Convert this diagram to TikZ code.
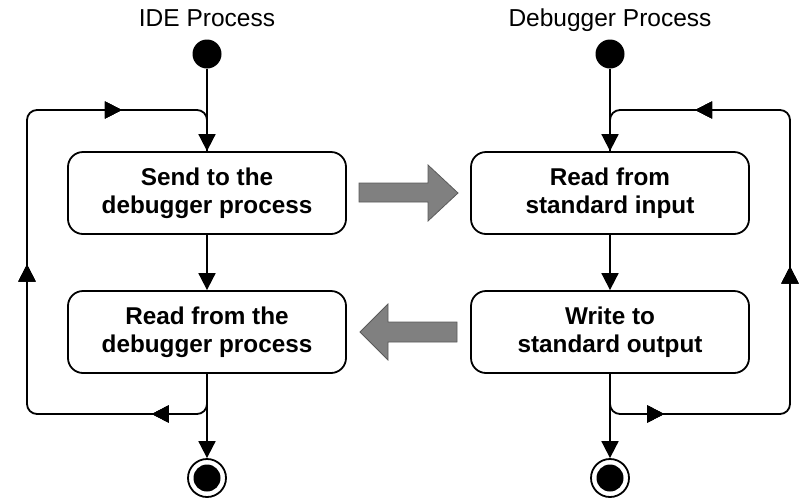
\documentclass[tikz,border=0pt]{standalone}
\usepackage{fontspec}
\setmainfont{Liberation Sans}
\usetikzlibrary{arrows.meta,decorations.markings}
\definecolor{blockgray}{HTML}{808080}
\definecolor{blockedge}{HTML}{5A5A5A}
\begin{document}
\begin{tikzpicture}[x=1pt,y=-1pt,
  actbox/.style={draw,line width=1.8pt,rounded corners=15pt,minimum width=278pt,minimum height=82pt,inner sep=0pt,align=center,font=\fontsize{24.3}{28}\selectfont\bfseries},
  title/.style={font=\fontsize{24.5}{28}\selectfont,anchor=base},
  flow/.style={line width=1.8pt,-{Triangle[length=17pt,width=17pt]}},
  startdot/.style={circle,fill=black,minimum size=29pt,inner sep=0pt},
  enddot/.style={circle,draw,line width=1.8pt,minimum size=38pt,inner sep=0pt,path picture={\fill[black] (path picture bounding box.center) circle (13.5pt);}},
  loopline/.style={line width=1.8pt,rounded corners=10pt},
  midarrow/.style={postaction={decorate},decoration={markings,mark=at position #1 with {\arrow{Triangle[length=17pt,width=17pt]}}}},
  bigarrow/.style={fill=blockgray,draw=blockedge,line width=0.8pt}
]
\useasboundingbox (0,0) rectangle (802,501);

% titles
\node[title] (t1) at (207,26.5) {IDE Process};
\node[title] (t2) at (610,26.5) {Debugger Process};

% start / end
\node[startdot] (s1) at (207,54) {};
\node[startdot] (s2) at (610,54) {};
\node[enddot] (e1) at (207,478) {};
\node[enddot] (e2) at (610,478) {};

% boxes
\node[actbox] (b1) at (207,193) {Send to the\\debugger process};
\node[actbox] (b2) at (207,332) {Read from the\\debugger process};
\node[actbox] (b3) at (610,193) {Read from\\standard input};
\node[actbox] (b4) at (610,332) {Write to\\standard output};

% loop corners
\coordinate (l1) at (207,414);
\coordinate (l2) at (27,414);
\coordinate (l3) at (27,110);
\coordinate (l4) at (207,110);
\coordinate (r1) at (610,414);
\coordinate (r2) at (790,414);
\coordinate (r3) at (790,110);
\coordinate (r4) at (610,110);

% main flow
\draw[flow] (s1) -- (b1);
\draw[flow] (b1) -- (b2);
\draw[flow] (b2) -- (e1);
\draw[flow] (s2) -- (b3);
\draw[flow] (b3) -- (b4);
\draw[flow] (b4) -- (e2);

% loops
\draw[loopline,midarrow=91pt,midarrow=361pt,midarrow=606pt] (b2.south) -- (l1) -- (l2) -- (l3) -- (l4) -- (b1.north);
\draw[loopline,midarrow=90pt,midarrow=359pt,midarrow=606pt] (b4.south) -- (r1) -- (r2) -- (r3) -- (r4) -- (b3.north);

% block arrows
\draw[bigarrow] (359,183) -- (428,183) -- (428,165) -- (458,193) -- (428,221) -- (428,202) -- (359,202) -- cycle;
\draw[bigarrow] (457,322) -- (388,322) -- (388,304) -- (360,332) -- (388,360) -- (388,342) -- (457,342) -- cycle;
\end{tikzpicture}
\end{document}
